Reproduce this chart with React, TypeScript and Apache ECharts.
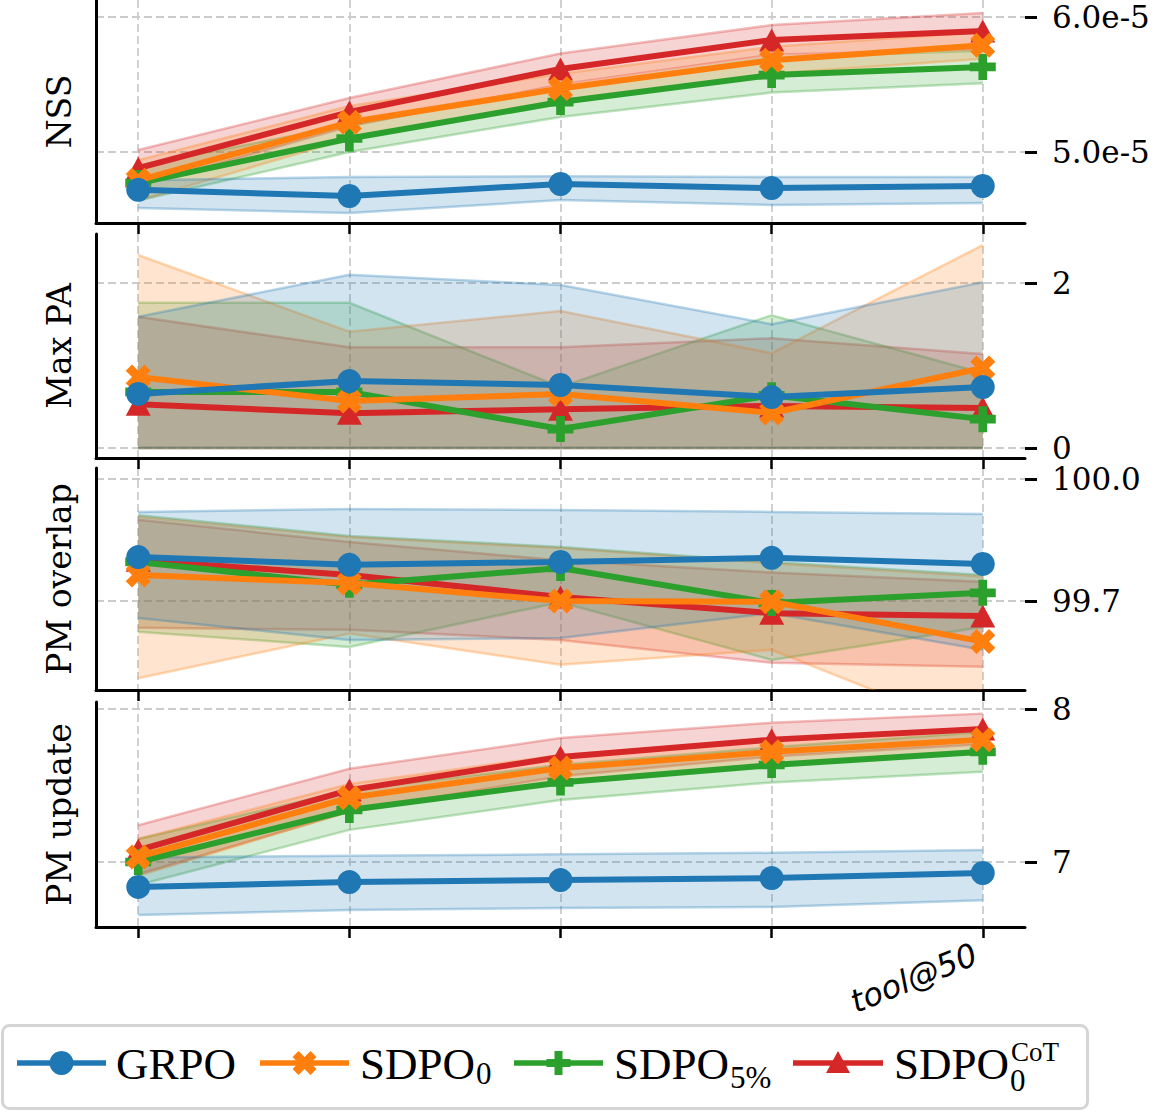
import React, { useEffect, useRef } from "react";
import * as echarts from "echarts";

// ---- categories / labels ----
const steps = [0, 1, 2, 3, 4];
const stepLabels = ["", "", "", "", "tool@50"];

// methods (legend order) and plotting order (bottom -> top)
const methods = ["GRPO", "SDPO0", "SDPO5", "SDPOCoT"];
const drawOrder = ["SDPOCoT", "SDPO5", "SDPO0", "GRPO"];
const methodColors: Record<string, string> = {
  GRPO: "#1f77b4",
  SDPO0: "#ff7f0e",
  SDPO5: "#2ca02c",
  SDPOCoT: "#d62728",
};

// ---- NSS ----
const nssMean: Record<string, number[]> = {
  GRPO: [4.72e-5, 4.674e-5, 4.763e-5, 4.733e-5, 4.748e-5],
  SDPO0: [4.79e-5, 5.22e-5, 5.47e-5, 5.68e-5, 5.79e-5],
  SDPO5: [4.77e-5, 5.1e-5, 5.37e-5, 5.57e-5, 5.63e-5],
  SDPOCoT: [4.88e-5, 5.296e-5, 5.615e-5, 5.83e-5, 5.896e-5],
};
const nssLow: Record<string, number[]> = {
  GRPO: [4.585e-5, 4.548e-5, 4.644e-5, 4.607e-5, 4.622e-5],
  SDPO0: [4.64e-5, 5.1e-5, 5.37e-5, 5.58e-5, 5.69e-5],
  SDPO5: [4.64e-5, 5.0e-5, 5.26e-5, 5.44e-5, 5.51e-5],
  SDPOCoT: [4.745e-5, 5.19e-5, 5.5e-5, 5.72e-5, 5.76e-5],
};
const nssHigh: Record<string, number[]> = {
  GRPO: [4.79e-5, 4.815e-5, 4.82e-5, 4.815e-5, 4.815e-5],
  SDPO0: [4.94e-5, 5.34e-5, 5.58e-5, 5.78e-5, 5.89e-5],
  SDPO5: [4.9e-5, 5.2e-5, 5.48e-5, 5.7e-5, 5.75e-5],
  SDPOCoT: [5.015e-5, 5.4e-5, 5.73e-5, 5.94e-5, 6.03e-5],
};
const nssTicks = [5e-5, 6e-5];

// ---- Max PA ----
const maxPaMean: Record<string, number[]> = {
  GRPO: [0.655, 0.812, 0.764, 0.618, 0.739],
  SDPO0: [0.86, 0.57, 0.655, 0.424, 0.97],
  SDPO5: [0.68, 0.68, 0.23, 0.64, 0.35],
  SDPOCoT: [0.53, 0.42, 0.47, 0.51, 0.485],
};
const maxPaLow: Record<string, number[]> = {
  GRPO: [0, 0, 0, 0, 0],
  SDPO0: [0, 0, 0, 0, 0],
  SDPO5: [0, 0, 0, 0, 0],
  SDPOCoT: [0, 0, 0, 0, 0],
};
const maxPaHigh: Record<string, number[]> = {
  GRPO: [1.59, 2.1, 1.976, 1.5, 2.01],
  SDPO0: [2.34, 1.41, 1.66, 1.15, 2.46],
  SDPO5: [1.76, 1.76, 0.74, 1.61, 0.91],
  SDPOCoT: [1.59, 1.22, 1.22, 1.33, 1.14],
};
const maxPaTicks = [0, 2];

// ---- PM overlap ----
const overlapMean: Record<string, number[]> = {
  GRPO: [99.808, 99.789, 99.796, 99.806, 99.791],
  SDPO0: [99.764, 99.744, 99.7, 99.698, 99.6],
  SDPO5: [99.796, 99.74, 99.781, 99.695, 99.72],
  SDPOCoT: [99.8, 99.764, 99.71, 99.67, 99.663],
};
const overlapLow: Record<string, number[]> = {
  GRPO: [99.658, 99.604, 99.609, 99.67, 99.58],
  SDPO0: [99.51, 99.62, 99.543, 99.58, 99.373],
  SDPO5: [99.624, 99.587, 99.697, 99.555, 99.636],
  SDPOCoT: [99.634, 99.629, 99.604, 99.548, 99.538],
};
const overlapHigh: Record<string, number[]> = {
  GRPO: [99.919, 99.926, 99.924, 99.919, 99.914],
  SDPO0: [99.907, 99.857, 99.83, 99.793, 99.76],
  SDPO5: [99.911, 99.86, 99.833, 99.796, 99.764],
  SDPOCoT: [99.9, 99.845, 99.8, 99.77, 99.747],
};
const overlapTicks = [99.7, 100.0];

// ---- PM update ----
const updateMean: Record<string, number[]> = {
  GRPO: [6.837, 6.869, 6.882, 6.895, 6.928],
  SDPO0: [7.033, 7.42, 7.614, 7.72, 7.8],
  SDPO5: [7.0, 7.34, 7.52, 7.634, 7.72],
  SDPOCoT: [7.078, 7.47, 7.686, 7.8, 7.87],
};
const updateLow: Record<string, number[]> = {
  GRPO: [6.654, 6.686, 6.7, 6.706, 6.75],
  SDPO0: [6.91, 7.33, 7.53, 7.64, 7.72],
  SDPO5: [6.85, 7.21, 7.405, 7.52, 7.59],
  SDPOCoT: [6.92, 7.33, 7.56, 7.69, 7.77],
};
const updateHigh: Record<string, number[]> = {
  GRPO: [7.03, 7.04, 7.05, 7.06, 7.078],
  SDPO0: [7.15, 7.51, 7.7, 7.8, 7.88],
  SDPO5: [7.15, 7.47, 7.635, 7.75, 7.85],
  SDPOCoT: [7.24, 7.61, 7.81, 7.91, 7.97],
};
const updateTicks = [7, 8];

// ---- panel layout ----
const GRID_LEFT = 96;
const GRID_WIDTH = 929;
const panels = [
  { label: "NSS", mean: nssMean, lo: nssLow, hi: nssHigh, ticks: nssTicks, min: 4.474e-5, max: 6.126e-5, top: 0, height: 223, fmt: (v: number) => v.toExponential(1) },
  { label: "Max PA", mean: maxPaMean, lo: maxPaLow, hi: maxPaHigh, ticks: maxPaTicks, min: -0.121, max: 2.594, top: 234, height: 224, fmt: (v: number) => String(Math.round(v)) },
  { label: "PM overlap", mean: overlapMean, lo: overlapLow, hi: overlapHigh, ticks: overlapTicks, min: 99.481, max: 100.027, top: 468, height: 222, fmt: (v: number) => v.toFixed(1) },
  { label: "PM update", mean: updateMean, lo: updateLow, hi: updateHigh, ticks: updateTicks, min: 6.575, max: 8.046, top: 702, height: 225, fmt: (v: number) => String(Math.round(v)) },
];

// ---- marker shapes ----
const ARM = 1 / 6;
const plusUnit: number[][] = [
  [-0.5, -ARM], [-ARM, -ARM], [-ARM, -0.5], [ARM, -0.5], [ARM, -ARM], [0.5, -ARM],
  [0.5, ARM], [ARM, ARM], [ARM, 0.5], [-ARM, 0.5], [-ARM, ARM], [-0.5, ARM],
];
const xScale = 0.5 / ((0.5 + ARM) / Math.SQRT2);
const crossUnit: number[][] = plusUnit.map(([x, y]) => [
  ((x - y) / Math.SQRT2) * xScale,
  ((x + y) / Math.SQRT2) * xScale,
]);
const toPath = (pts: number[][]) =>
  "path://M" + pts.map((p) => `${p[0].toFixed(4)},${p[1].toFixed(4)}`).join(" L") + " Z";

const symbols: Record<string, string> = {
  GRPO: "circle",
  SDPO0: toPath(crossUnit),
  SDPO5: toPath(plusUnit),
  SDPOCoT: "triangle",
};
const symbolSizes: Record<string, number | number[]> = {
  GRPO: 24,
  SDPO0: 25,
  SDPO5: 26,
  SDPOCoT: [25, 23],
};

const gridLine = { color: "#cccccc", width: 1.8, type: [8, 4] as number[] };
const SERIF = "DejaVu Serif";
const LEGEND_FAMILY = "Liberation Serif";

function buildLegend(): any[] {
  const cy = 1063;
  const ctx = document.createElement("canvas").getContext("2d")!;
  const measure = (t: string, size: number) => {
    ctx.font = `${size}px "${LEGEND_FAMILY}"`;
    return ctx.measureText(t).width;
  };
  const entries = [
    { m: "GRPO", x0: 17, x1: 106, tx: 116, base: "GRPO" },
    { m: "SDPO0", x0: 260, x1: 349, tx: 360, base: "SDPO", sub: "0", subY: 1073 },
    { m: "SDPO5", x0: 514, x1: 603, tx: 614, base: "SDPO", sub: "5%", subY: 1077 },
    { m: "SDPOCoT", x0: 793, x1: 883, tx: 894, base: "SDPO", sub: "0", subY: 1080, sup: "CoT" },
  ];
  const els: any[] = [
    {
      type: "rect",
      shape: { x: 2.5, y: 1025.5, width: 1085, height: 83, r: 7 },
      style: { fill: "#ffffff", stroke: "#d5d5d5", lineWidth: 3 },
      z: 100,
    },
  ];
  const txt = (text: string, x: number, y: number, size: number, lh: number) => ({
    type: "text",
    x,
    y,
    z: 102,
    style: {
      text,
      fill: "#000",
      fontSize: size,
      fontFamily: LEGEND_FAMILY,
      lineHeight: lh,
      textAlign: "left",
      textVerticalAlign: "middle",
      align: "left",
      verticalAlign: "middle",
    },
  });
  entries.forEach((e: any) => {
    const color = methodColors[e.m];
    els.push({
      type: "line",
      z: 101,
      shape: { x1: e.x0, y1: cy, x2: e.x1, y2: cy },
      style: { stroke: color, lineWidth: 5.5 },
    });
    const mx = (e.x0 + e.x1) / 2;
    if (e.m === "GRPO") {
      els.push({ type: "circle", z: 102, shape: { cx: mx, cy, r: 12 }, style: { fill: color } });
    } else if (e.m === "SDPOCoT") {
      els.push({
        type: "polygon",
        z: 102,
        shape: { points: [[mx, cy - 12], [mx + 12, cy + 10], [mx - 12, cy + 10]] },
        style: { fill: color },
      });
    } else {
      const unit = e.m === "SDPO0" ? crossUnit : plusUnit;
      els.push({
        type: "polygon",
        z: 102,
        shape: { points: unit.map(([x, y]) => [mx + x * 24, cy + y * 24]) },
        style: { fill: color },
      });
    }
    els.push(txt(e.base, e.tx, 1064, 45, 45));
    const bx = e.tx + measure(e.base, 45) + 1;
    if (e.sub) els.push(txt(e.sub, bx, e.subY, 31, e.sup ? 22 : 31));
    if (e.sup) els.push(txt(e.sup, bx + 1, 1052, 27, 19));
  });
  return els;
}

// shaded spread band between the low and high curves of one method
function bandSeries(pi: number, m: string, lo: number[], hi: number[]): any {
  const color = methodColors[m];
  const fill = echarts.color.modifyAlpha(color, 0.2);
  const edge = echarts.color.modifyAlpha(color, 0.3);
  return {
    type: "custom",
    xAxisIndex: pi,
    yAxisIndex: pi * 2,
    data: steps.map((i) => [i, lo[i], hi[i]]),
    encode: { x: 0, y: [1, 2] },
    z: 2,
    silent: true,
    renderItem: (params: any, api: any) => {
      if (params.dataIndex !== 0) return null;
      const top = steps.map((i) => api.coord([i, hi[i]]));
      const bottom = steps.map((i) => api.coord([i, lo[i]]));
      const cs = params.coordSys;
      return {
        type: "group",
        clipPath: { type: "rect", shape: { x: cs.x, y: cs.y, width: cs.width, height: cs.height } },
        children: [
          {
            type: "polygon",
            shape: { points: top.concat(bottom.slice().reverse()) },
            style: { fill, stroke: "none" },
          },
          { type: "polyline", shape: { points: top }, style: { fill: "none", stroke: edge, lineWidth: 2.5 } },
          { type: "polyline", shape: { points: bottom }, style: { fill: "none", stroke: edge, lineWidth: 2.5 } },
        ],
      };
    },
  };
}

function buildOption(): any {
  const grid: any[] = [];
  const xAxis: any[] = [];
  const yAxis: any[] = [];
  const series: any[] = [];

  panels.forEach((p, pi) => {
    grid.push({ left: GRID_LEFT, top: p.top, width: GRID_WIDTH, height: p.height, containLabel: false, outerBoundsMode: "none" });
    const last = pi === panels.length - 1;
    xAxis.push({
      gridIndex: pi,
      type: "value",
      min: -0.2,
      max: 4.2,
      axisLine: { show: true, onZero: false, lineStyle: { color: "#000", width: 3 } },
      axisTick: { show: true, customValues: steps, length: 11, lineStyle: { color: "#000", width: 2.5 } },
      axisLabel: {
        show: last,
        customValues: steps,
        formatter: (v: number) => stepLabels[Math.round(v)] ?? "",
        rotate: 22,
        margin: 23,
        padding: [0, 8, 0, 0],
        fontFamily: "DejaVu Sans",
        fontStyle: "italic",
        fontSize: 32,
        color: "#000",
      },
      splitLine: { show: true, lineStyle: gridLine },
    });
    // right-hand axis with ticks, labels and horizontal grid
    yAxis.push({
      gridIndex: pi,
      type: "value",
      position: "right",
      min: p.min,
      max: p.max,
      axisLine: { show: false, onZero: false },
      axisTick: { show: true, customValues: p.ticks, length: 12, lineStyle: { color: "#000", width: 3 } },
      axisLabel: {
        customValues: p.ticks,
        formatter: (v: number) => p.fmt(v),
        margin: 27,
        fontFamily: SERIF,
        fontSize: 31,
        lineHeight: 26,
        color: "#000",
      },
      splitLine: { show: true, lineStyle: gridLine },
    });
    // left spine carrying the panel title
    yAxis.push({
      gridIndex: pi,
      type: "value",
      position: "left",
      min: p.min,
      max: p.max,
      axisLine: { show: true, onZero: false, lineStyle: { color: "#000", width: 3 } },
      axisTick: { show: false },
      axisLabel: { show: false },
      splitLine: { show: false },
      name: p.label,
      nameLocation: "middle",
      nameRotate: 90,
      nameGap: 20,
      nameTextStyle: { fontFamily: SERIF, fontSize: 33, color: "#000" },
    });

    drawOrder.forEach((m) => series.push(bandSeries(pi, m, p.lo[m], p.hi[m])));
    drawOrder.forEach((m, k) => {
      const color = methodColors[m];
      series.push({
        type: "line",
        name: m,
        xAxisIndex: pi,
        yAxisIndex: pi * 2,
        data: steps.map((i) => [i, p.mean[m][i]]),
        symbol: symbols[m],
        symbolSize: symbolSizes[m],
        showAllSymbol: true,
        lineStyle: { color, width: 6 },
        itemStyle: { color, opacity: 1 },
        z: 5 + k,
      });
    });
  });

  return {
    animation: false,
    backgroundColor: "#ffffff",
    grid,
    xAxis,
    yAxis,
    series,
    graphic: { elements: buildLegend() },
  };
}

export default function App() {
  const ref = useRef<HTMLDivElement>(null);
  useEffect(() => {
    if (!ref.current) return;
    const chart = echarts.init(ref.current, null, { renderer: "svg" });
    chart.setOption(buildOption());
    return () => chart.dispose();
  }, []);
  return (
    <div
      ref={ref}
      style={{ position: "fixed", left: 0, top: 0, width: 1158, height: 1112, background: "#fff" }}
    />
  );
}
